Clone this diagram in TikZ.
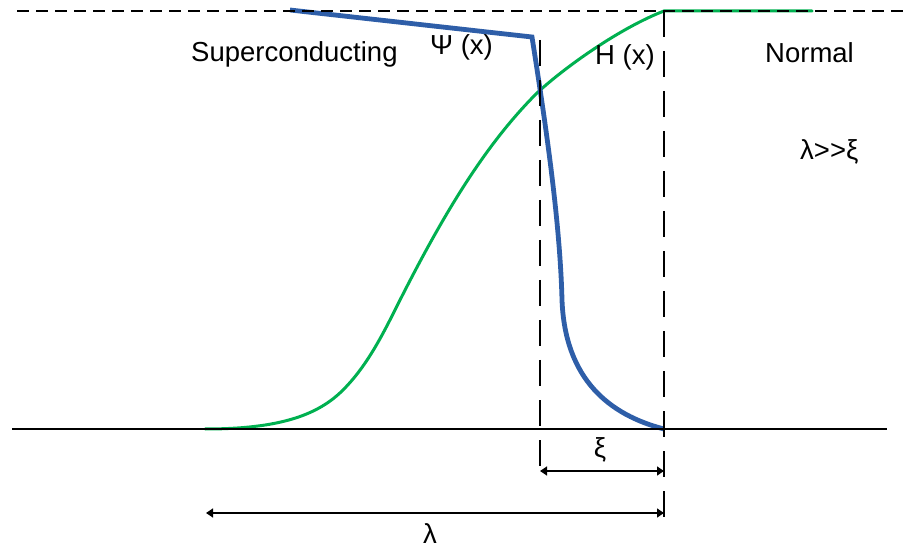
\documentclass[tikz,border=0pt]{standalone}
\usepackage{fontspec}
\setmainfont{Liberation Sans}
\usetikzlibrary{arrows.meta}
\definecolor{psiblue}{RGB}{46,94,168}
\definecolor{hgreen}{RGB}{0,176,80}
\begin{document}
\begin{tikzpicture}[x=1pt,y=-1pt,
  lbl/.style={font=\fontsize{27.5}{30}\selectfont, inner sep=0pt, anchor=base west},
  hdash/.style={black, line width=1.3pt, dash pattern=on 12pt off 7pt},
  vdash/.style={black, line width=1.3pt, dash pattern=on 26pt off 14pt},
  dimarrow/.style={black, line width=1.3pt, {Triangle[length=7pt,width=9pt]}-{Triangle[length=7pt,width=9pt]}},
  greencurve/.style={hgreen, line width=3pt, line cap=round},
  bluecurve/.style={psiblue, line width=4.8pt, line join=miter}]
\useasboundingbox (0,0) rectangle (914,548);
% named coordinates
\coordinate (topL) at (17,11);
\coordinate (topR) at (906,11);
\coordinate (baseL) at (12,429);
\coordinate (baseR) at (887,429);
\coordinate (xiTop) at (540,40);
\coordinate (xiBot) at (540,473);
\coordinate (edgeTop) at (664,11);
\coordinate (edgeBot) at (664,519);
\coordinate (xiArrL) at (540,471);
\coordinate (xiArrR) at (664,471);
\coordinate (laArrL) at (206,513);
\coordinate (laArrR) at (664,513);
% green H(x)
\draw[greencurve] (205,429) .. controls (280,429) and (318,415) .. (343,390)
  .. controls (365,368) and (380,340) .. (395,310)
  .. controls (445,210) and (487,143) .. (537,93)
  .. controls (565,67) and (620,28) .. (664,11) -- (812,11);
% blue Psi(x)
\draw[bluecurve] (290,10) -- (532,37)
  .. controls (545,120) and (560,220) .. (562,300)
  .. controls (565,380) and (610,415) .. (664,429);
% axes and dashed lines
\draw[hdash] (topL) -- (topR);
\draw[black, line width=1.3pt] (baseL) -- (baseR);
\draw[vdash] (xiTop) -- (xiBot);
\draw[vdash] (edgeTop) -- (edgeBot);
% dimension arrows
\draw[dimarrow] (xiArrL) -- (xiArrR);
\draw[dimarrow] (laArrL) -- (laArrR);
% labels
\node[lbl] (sc) at (191,62) {Superconducting};
\node[lbl] (psi) at (430,55) {Ψ (x)};
\node[lbl] (hx) at (595,65) {H (x)};
\node[lbl] (nm) at (765,63) {Normal};
\node[lbl] (cond) at (800,160) {λ>{}>ξ};
\node[lbl, anchor=base] (xi) at (600,457) {ξ};
\node[lbl, anchor=base] (la) at (430,543) {λ};
\end{tikzpicture}
\end{document}
